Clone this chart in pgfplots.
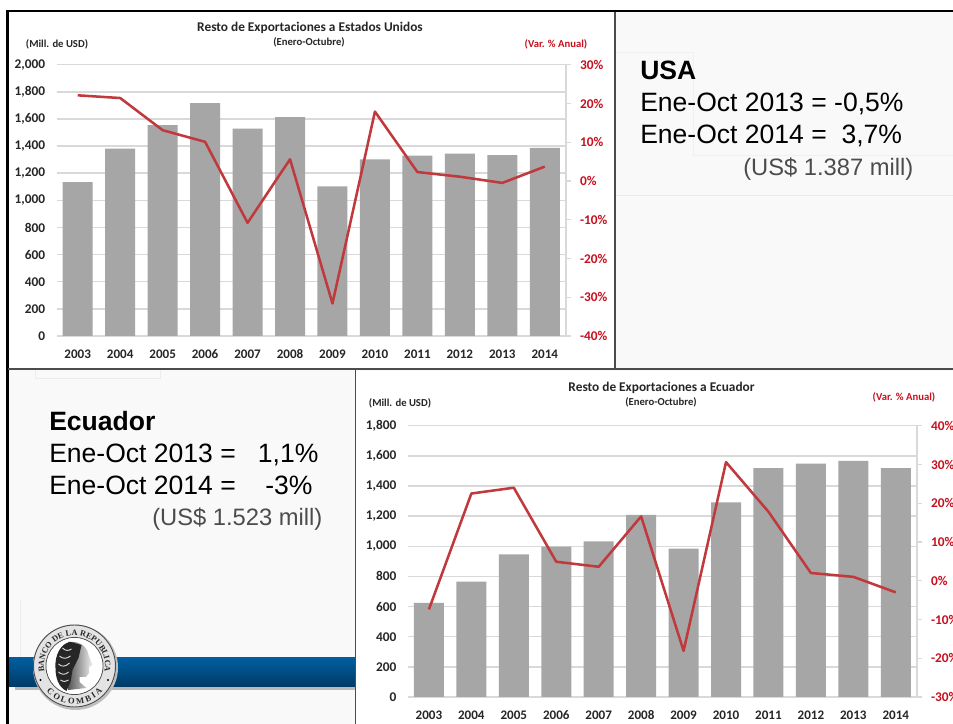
\documentclass[border=0pt]{standalone}
\usepackage{pgfplots}
\pgfplotsset{compat=1.18}
\usepackage{fontspec}
\setmainfont{Carlito}
\newfontfamily\arial{Liberation Sans}
\newfontfamily\sealfont{Liberation Serif}
\usetikzlibrary{decorations.text,shadings}
\definecolor{barg}{HTML}{A6A6A6}
\definecolor{gridg}{HTML}{D9D9D9}
\definecolor{linered}{HTML}{C0393D}
\definecolor{labred}{HTML}{C8101E}
\definecolor{panel}{HTML}{F9F9F9}
\definecolor{txt}{HTML}{262626}
\definecolor{bandtop}{HTML}{005E9E}
\definecolor{bandbot}{HTML}{003A66}
\newcommand{\cf}[1]{\fontsize{#1}{#1}\selectfont\bfseries}
\newcommand{\af}[1]{\fontsize{#1}{#1}\selectfont\arial}
\pgfplotstableread{
x usd var
0 1135 22.1
1 1381 21.4
2 1555 13.1
3 1717 10.1
4 1528 -10.8
5 1614 5.6
6 1103 -31.6
7 1302 17.9
8 1329 2.3
9 1344 1.1
10 1334 -0.5
11 1386 3.7
}\usatable
\pgfplotstableread{
x usd var
0 624 -7.4
1 765 22.5
2 947 24.0
3 998 4.9
4 1033 3.6
5 1208 16.6
6 984 -18.1
7 1292 30.6
8 1518 17.8
9 1549 2.0
10 1566 1.0
11 1518 -3.0
}\ecutable
\pgfplotsset{
 leftax/.style={
  scale only axis, xmin=-0.5, xmax=11.5, ymin=0,
  axis line style={draw=none},
  xtick={0,...,11},
  xticklabels={2003,2004,2005,2006,2007,2008,2009,2010,2011,2012,2013,2014},
  x tick label style={font=\cf{9.8}, text=txt, text height=6.5pt, text depth=0pt, yshift=-7pt},
  y tick label style={font=\cf{10}, text=txt, xshift=-5pt},
  major tick length=0pt,
  ymajorgrids, major grid style={draw=gridg, line width=1.1pt},
  /pgf/number format/assume math mode=true,
  /pgf/number format/1000 sep={,},
  clip=false,
 },
 rightax/.style={
  scale only axis, xmin=-0.5, xmax=11.5,
  axis x line=none, axis y line*=right,
  axis line style={draw=gridg, line width=1.1pt, -},
  y tick style={draw=gridg, line width=1pt},
  major tick length=4pt,
  tick align=outside,
  y tick label style={font=\cf{10}, text=labred, xshift=3pt},
  clip=false,
 },
}
\begin{document}
\begin{tikzpicture}[x=0.75pt,y=0.75pt]
\clip (0,0) rectangle (953,724);
\fill[white] (0,0) rectangle (953,724);
\begin{scope}[y=-0.75pt,yshift=543pt]
 % panels
 \fill[panel] (7,11) rectangle (953,724);
 \draw[draw=gray!12] (693,52) -- (693,155) -- (953,155);
 \draw[draw=gray!12] (615,52) -- (693,52);
 \draw[draw=gray!15] (615,195) -- (953,195);
 \draw[draw=gray!15] (35,370) -- (35,378) -- (160,378) -- (160,370);
 \draw[draw=gray!15] (20,600) -- (20,657);
 \fill[white] (8,12) rectangle (614,368);
 \fill[white] (356,371) rectangle (953,724);
 % blue band
 \fill[gray!55] (15,687) rectangle (355,690);
 \shade[top color=bandtop, bottom color=bandbot] (8,658) rectangle (355,687);
 \fill[white] (0,0) rectangle (6,724);
 \fill[black] (6,10) rectangle (953,12.5);
 \fill[black] (6,10) rectangle (8.5,724);
 \draw[draw=black!70, line width=0.9pt] (8,369) -- (953,369);
 \draw[draw=black!70, line width=0.9pt] (615,12) -- (615,369);
 \draw[draw=black!70, line width=0.9pt] (355.5,369) -- (355.5,724);
\end{scope}
% Seal
\begin{scope}[shift={(74.5,58)}]
 \fill[gray!50] (1,-1.5) circle (42.5);
 \fill[gray!22] (0,0) circle (41.5);
 \draw[gray!60!black, line width=0.7pt] (0,0) circle (41);
 \draw[gray!60!black, line width=0.7pt] (0,0) circle (28.5);
 \fill[white] (0,0) circle (28);
 \path[decorate, decoration={text along path, text align=center, text={|\sealfont\bfseries\fontsize{6.2}{6.2}\selectfont\color{black!85}|BANCO DE LA REPUBLICA}}]
   (205:30.5) arc (205:-25:30.5);
 \path[decorate, decoration={text along path, text align=center, text={|\sealfont\bfseries\fontsize{6.4}{6.4}\selectfont\color{black!85}|C O L O M B I A}}]
   (215:38) arc (215:325:38);
 \fill[black] (-34,-14) circle (1.2);
 \fill[black] (33.5,-14) circle (1.2);
 % head
 \shade[left color=gray!70!black, right color=gray!12]
   (-6,24) .. controls (6,25) and (13,19) .. (14,11)
   -- (18,1) -- (14.5,-1) -- (14.5,-7) -- (11.5,-11) -- (5,-11) -- (5,-16) -- (12,-22)
   -- (-6,-24) -- cycle;
 \fill[black!85] (-4,24) .. controls (-14,23) and (-20,10) .. (-19,-2)
   .. controls (-19,-12) and (-16,-21) .. (-8,-25) -- (-4,-16) -- (-2,-4) -- (4,8) -- (7,21) -- cycle;
 \draw[white!85!black, line width=0.7pt]
   (-12,18) .. controls (-9,15) and (-6,15) .. (-3,17)
   (-15,10) .. controls (-12,7) and (-8,7) .. (-4,10)
   (-16,2) .. controls (-13,-1) and (-9,-1) .. (-5,3)
   (-16,-6) .. controls (-13,-9) and (-9,-9) .. (-6,-6)
   (-14,-14) .. controls (-11,-16) and (-8,-16) .. (-6,-14);
\end{scope}
% Top chart
\begin{axis}[leftax, at={(42.375pt,291pt)}, anchor=south west,
  width=382.125pt, height=203.475pt, ymax=2000, ytick={0,200,...,2000}]
 \addplot[ybar, bar width=22.5pt, fill=barg, draw=none] table[x=x,y=usd]{\usatable};
\end{axis}
\begin{axis}[rightax, at={(42.375pt,291pt)}, anchor=south west,
  width=382.125pt, height=203.475pt, ymin=-40, ymax=30,
  ytick={-40,-30,...,30},
  yticklabels={-40\%,-30\%,-20\%,-10\%,0\%,10\%,20\%,30\%}]
 \addplot[linered, line width=1.9pt, line join=round] table[x=x,y=var]{\usatable};
\end{axis}
% Bottom chart
\begin{axis}[leftax, at={(305.775pt,20.25pt)}, anchor=south west,
  width=381.975pt, height=203.475pt, ymax=1800, ytick={0,200,...,1800}]
 \addplot[ybar, bar width=22.5pt, fill=barg, draw=none] table[x=x,y=usd]{\ecutable};
\end{axis}
\begin{axis}[rightax, at={(305.775pt,20.25pt)}, anchor=south west,
  width=381.975pt, height=203.475pt, ymin=-30, ymax=40,
  ytick={-30,-20,...,40},
  yticklabels={-30\%,-20\%,-10\%,0\%,10\%,20\%,30\%,40\%}]
 \addplot[linered, line width=1.9pt, line join=round] table[x=x,y=var]{\ecutable};
\end{axis}
% Text
\begin{scope}[y=-0.75pt,yshift=543pt]
 \node[text=txt,font=\cf{10}] at (310,28) {Resto de Exportaciones a Estados Unidos};
 \node[text=txt,font=\cf{8}] at (309,42) {(Enero-Octubre)};
 \node[text=txt,font=\cf{8}] at (57,44) {(Mill. de USD)};
 \node[text=labred,font=\cf{8}] at (556,44) {(Var. \% Anual)};
 \node[text=txt,font=\cf{10}] at (661.5,388) {Resto de Exportaciones a Ecuador};
 \node[text=txt,font=\cf{8}] at (661,402) {(Enero-Octubre)};
 \node[text=txt,font=\cf{8}] at (400,403) {(Mill. de USD)};
 \node[text=labred,font=\cf{8}] at (904,397) {(Var. \% Anual)};
 % USA
 \node[anchor=west,inner sep=0pt,font={\af{19.9}\bfseries}] at (640,70) {USA};
 \node[anchor=west,inner sep=0pt,font=\af{19.9}] at (640,104) {Ene-Oct 2013 = -0,5\%};
 \node[anchor=west,inner sep=0pt,font=\af{19.9}] at (640,136) {Ene-Oct 2014 =\ \ 3,7\%};
 \node[anchor=west,inner sep=0pt,font=\af{17.8},text=black!70] at (743,169) {(US\$ 1.387 mill)};
 % Ecuador
 \node[anchor=west,inner sep=0pt,font={\af{19.9}\bfseries}] at (49,421) {Ecuador};
 \node[anchor=west,inner sep=0pt,font=\af{19.9}] at (49,455) {Ene-Oct 2013 =\ \ \ 1,1\%};
 \node[anchor=west,inner sep=0pt,font=\af{19.9}] at (49,485) {Ene-Oct 2014 =\ \ \ \ -3\%};
 \node[anchor=west,inner sep=0pt,font=\af{17.8},text=black!70] at (152,519) {(US\$ 1.523 mill)};
\end{scope}
\end{tikzpicture}
\end{document}
